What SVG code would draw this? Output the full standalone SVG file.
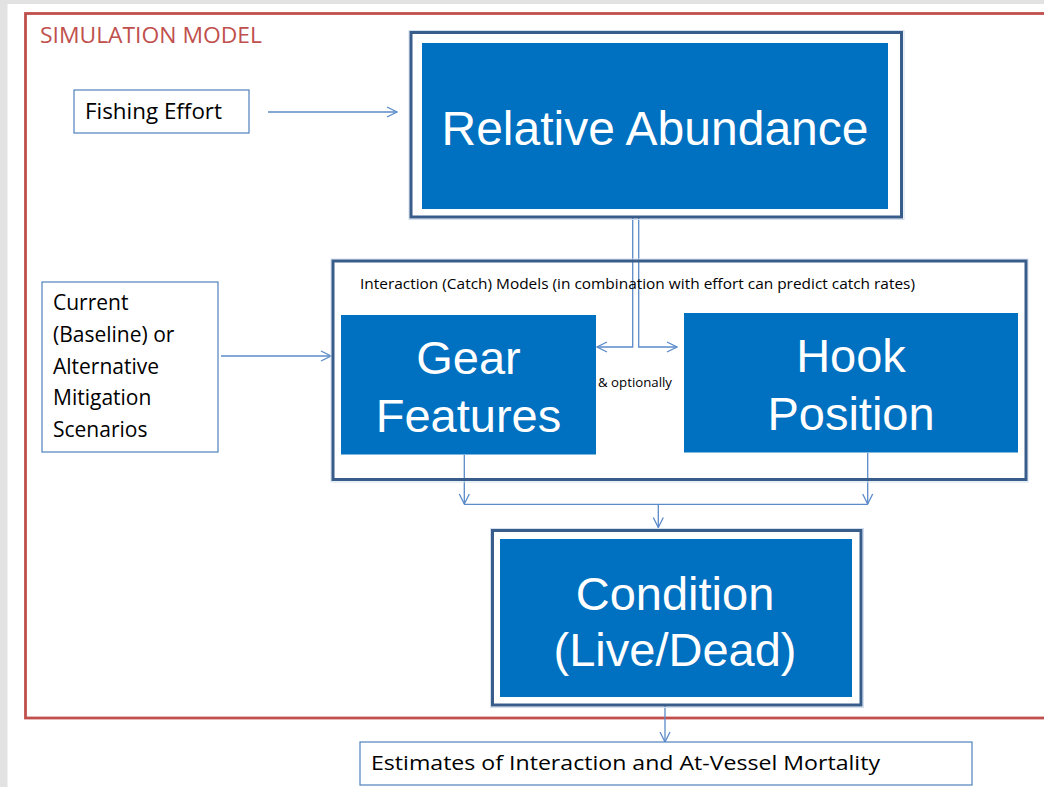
<svg xmlns="http://www.w3.org/2000/svg" width="1044" height="787" viewBox="0 0 1044 787">
<style>
.big{font-family:"Liberation Sans",Arial,sans-serif;font-size:47px;fill:#fff;text-anchor:middle}
.sm{font-family:"Open Sans","Liberation Sans",sans-serif;fill:#000}
.blue{fill:#0070C0}
.frame{fill:none;stroke:#385D8A;stroke-width:3}
.shadow{fill:none;stroke:#D3DEEE;stroke-width:1}
.tbox{fill:#fff;stroke:#4F81BD;stroke-width:1.2}
.conn{fill:none;stroke:#5B8BC9;stroke-width:1.3}
</style>
<defs>
<marker id="arr" viewBox="0 0 12 12" refX="11" refY="6" markerWidth="12" markerHeight="12" markerUnits="userSpaceOnUse" orient="auto">
<path d="M1,1 L11,6 L1,11" fill="none" stroke="#5B8BC9" stroke-width="1.3"/>
</marker>
</defs>
<rect x="0" y="0" width="1044" height="787" fill="#fff"/>
<rect x="0" y="0" width="1044" height="4" fill="#E2E2E2"/>
<rect x="0" y="0" width="7.5" height="787" fill="#E2E2E2"/>
<g id="simulation-model">
<rect x="25.5" y="13.5" width="1040" height="704.5" fill="none" stroke="#C0504D" stroke-width="2.8"/>
<text x="40" y="43" font-family="'Open Sans','Liberation Sans',sans-serif" font-size="21" fill="#C0504D" textLength="222" lengthAdjust="spacingAndGlyphs">SIMULATION MODEL</text>
</g>
<g id="connectors">
<line class="conn" x1="268" y1="112" x2="397" y2="112" marker-end="url(#arr)"/>
<line class="conn" x1="221" y1="356" x2="331" y2="356" marker-end="url(#arr)"/>
<polyline class="conn" points="632.7,218 632.7,347 597,347" marker-end="url(#arr)"/>
<polyline class="conn" points="638.7,218 638.7,347 677,347" marker-end="url(#arr)"/>
<line class="conn" x1="464.3" y1="455" x2="464.3" y2="504" marker-end="url(#arr)"/>
<line class="conn" x1="867.7" y1="453" x2="867.7" y2="504" marker-end="url(#arr)"/>
<line class="conn" x1="464.3" y1="504.3" x2="867.7" y2="504.3"/>
<line class="conn" x1="658.3" y1="504.3" x2="658.3" y2="527.5" marker-end="url(#arr)"/>
<line class="conn" x1="665" y1="706" x2="665" y2="742" marker-end="url(#arr)"/>
</g>
<g id="fishing-effort">
<rect class="tbox" x="74" y="90" width="175" height="43"/>
<text class="sm" x="85" y="119" font-size="21" textLength="137" lengthAdjust="spacingAndGlyphs">Fishing Effort</text>
</g>
<g id="relative-abundance">
<rect class="shadow" x="409" y="30.5" width="495" height="189"/>
<rect class="frame" x="411" y="32.5" width="490.5" height="184.5"/>
<rect class="blue" x="422" y="43" width="466" height="166"/>
<text class="big" x="655" y="145" style="font-size:48px">Relative Abundance</text>
</g>
<g id="interaction-models">
<rect class="shadow" x="331" y="259" width="697" height="223"/>
<rect class="frame" x="333" y="261" width="693" height="218.5"/>
<text class="sm" x="360" y="289" font-size="14" textLength="555" lengthAdjust="spacingAndGlyphs">Interaction (Catch) Models (in combination with effort can predict catch rates)</text>
<text class="sm" x="598" y="387" font-size="12" textLength="74" lengthAdjust="spacingAndGlyphs">&amp; optionally</text>
</g>
<g id="gear-features">
<rect class="blue" x="341" y="315" width="255" height="139.5"/>
<text class="big" x="468.5" y="374">Gear</text>
<text class="big" x="468.5" y="432">Features</text>
</g>
<g id="hook-position">
<rect class="blue" x="684" y="313" width="334" height="139.5"/>
<text class="big" x="851" y="372">Hook</text>
<text class="big" x="851" y="430">Position</text>
</g>
<g id="mitigation-scenarios">
<rect class="tbox" x="42" y="282" width="176" height="170"/>
<text class="sm" font-size="21">
<tspan x="53" y="310">Current</tspan>
<tspan x="53" y="342">(Baseline) or</tspan>
<tspan x="53" y="374">Alternative</tspan>
<tspan x="53" y="405">Mitigation</tspan>
<tspan x="53" y="437">Scenarios</tspan>
</text>
</g>
<g id="condition">
<rect class="shadow" x="490.5" y="528.5" width="373" height="179"/>
<rect class="frame" x="492.5" y="530.5" width="368.5" height="174.5"/>
<rect class="blue" x="500" y="539" width="352" height="158"/>
<text class="big" x="675" y="610">Condition</text>
<text class="big" x="675" y="666">(Live/Dead)</text>
</g>
<g id="estimates">
<rect class="tbox" x="360" y="742" width="612" height="43"/>
<text class="sm" x="371" y="770" font-size="20" textLength="509" lengthAdjust="spacingAndGlyphs">Estimates of Interaction and At-Vessel Mortality</text>
</g>
</svg>
